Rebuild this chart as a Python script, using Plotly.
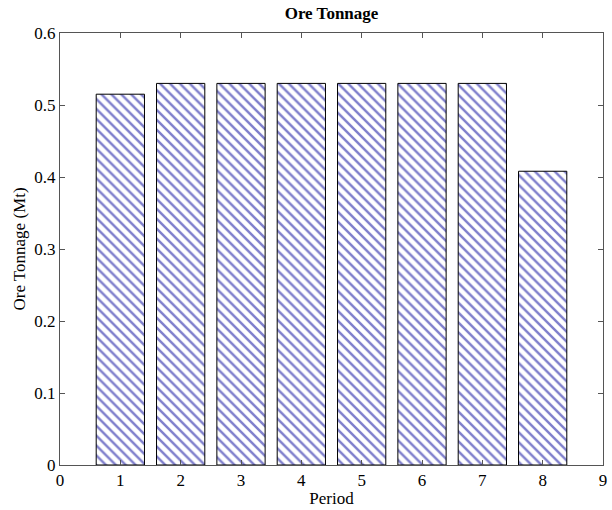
import plotly.graph_objects as go

periods = [1, 2, 3, 4, 5, 6, 7, 8]
tonnage = [0.515, 0.530, 0.530, 0.530, 0.530, 0.530, 0.530, 0.408]
x_ticks = [0, 1, 2, 3, 4, 5, 6, 7, 8, 9]
y_ticks = [0, 0.1, 0.2, 0.3, 0.4, 0.5, 0.6]
y_tick_text = ["0", "0.1", "0.2", "0.3", "0.4", "0.5", "0.6"]

font = "Liberation Serif"
fs = 17

fig = go.Figure(go.Bar(
    x=periods, y=tonnage, width=0.8,
    marker=dict(
        color="white",
        line=dict(color="black", width=1),
        pattern=dict(shape="\\", fgcolor="#000099", bgcolor="white", size=7, solidity=0.35),
    ),
))

fig.update_layout(
    width=612, height=510,
    paper_bgcolor="white", plot_bgcolor="white",
    margin=dict(l=60, r=5, t=33, b=45),
    font=dict(family=font, size=fs, color="black"),
    title=dict(text="<b>Ore Tonnage</b>", xref="paper", x=0.5, xanchor="center",
               yref="container", y=0.975, yanchor="middle",
               font=dict(family=font, size=fs, color="black")),
    showlegend=False,
)
fig.update_xaxes(
    range=[0, 9], tickvals=x_ticks, ticks="inside", ticklen=5, tickcolor="#555",
    showline=True, linecolor="#555", linewidth=1, mirror="ticks", showgrid=False, zeroline=False,
    tickfont=dict(family=font, size=fs),
    title=dict(text="Period", standoff=2, font=dict(family=font, size=fs)),
)
fig.update_yaxes(
    range=[0, 0.6], tickvals=y_ticks, ticktext=y_tick_text, ticks="inside", ticklen=5, tickcolor="#555",
    showline=True, linecolor="#555", linewidth=1, mirror="ticks", showgrid=False, zeroline=False,
    tickfont=dict(family=font, size=fs),
    title=dict(text="Ore Tonnage (Mt)", standoff=4, font=dict(family=font, size=fs)),
)

fig.write_html("out.html")
